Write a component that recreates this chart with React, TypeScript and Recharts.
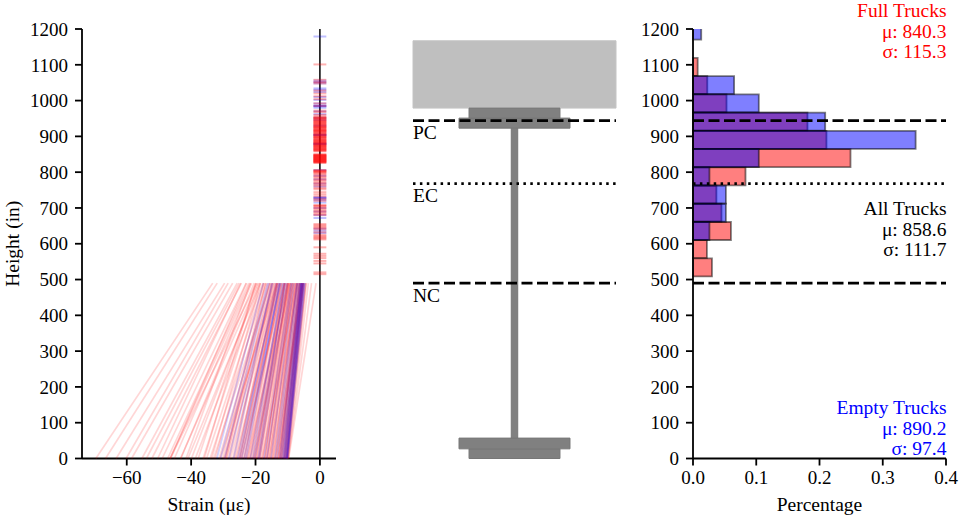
import React from 'react';
import { ScatterChart, Scatter, BarChart, Bar, ComposedChart, XAxis, YAxis, ReferenceLine, ReferenceArea } from 'recharts';

const SERIF = '"Liberation Serif", serif';
const heightTicks = [0, 100, 200, 300, 400, 500, 600, 700, 800, 900, 1000, 1100, 1200];
const strainTicks = [-60, -40, -20, 0];
const pctTicks = [0, 0.1, 0.2, 0.3, 0.4];

// strain profile below the slab: value at the bottom flange and at the neutral axis
const NEUTRAL = 490;
const PC = 944;
const EC = 768;
const fullBottom = [
  -69.6, -66.6, -63.3, -60.2, -58.5, -55.3, -53.9, -52.2, -50.4, -49.0,
  -47.3, -46.6, -46.5, -46.4, -45.2, -43.3, -43.2, -41.0, -39.9, -38.7,
  -36.3, -35.9, -34.1, -33.6, -32.5, -31.3, -30.2, -29.8, -29.5, -29.3, -29.1, -28.8, -28.2,
  -26.6, -25.9, -25.4, -25.1, -24.9, -24.7, -24.2, -23.7, -23.5, -22.8,
  -22.3, -21.9, -21.7, -21.4, -21.0, -20.7, -20.3, -20.0, -19.6, -19.3,
  -19.0, -18.7, -18.4, -18.0,
  -17.6, -17.2, -16.9, -16.5, -16.2, -15.9, -15.5, -15.2, -14.9, -14.5,
  -14.2, -13.9, -13.6, -13.2, -12.9, -12.7, -12.4, -12.1, -11.8, -11.6,
  -11.3, -11.1, -10.9, -10.7, -10.5, -10.3, -10.1, -9.9, -9.7,
  -41.6, -37.8, -35.2, -33.0, -30.9, -27.8, -27.1, -26.2, -24.4, -23.1,
  -22.5, -20.5, -19.8, -18.9, -17.9, -17.0, -16.4, -15.7, -14.7, -13.7,
  -13.0, -12.5, -12.2, -11.9, -11.2, -10.8, -10.4, -10.2, -10.0, -9.8,
];
const fullTop = [
  -33.3, -31.9, -29.6, -28.5, -27.1, -25.7, -25.1, -24.4, -24.6, -22.9,
  -22.1, -21.6, -19.7, -22.8, -21.2, -19.3, -20.4, -18.5, -19.0, -17.7,
  -18.6, -20.0, -16.6, -18.4, -17.4, -15.6, -17.0, -14.4, -16.8, -15.0, -16.2, -14.0, -15.6,
  -14.8, -13.2, -14.6, -12.4, -14.0, -12.8, -13.6, -11.8, -13.2, -12.0,
  -12.6, -11.0, -12.3, -10.8, -11.9, -10.4, -11.4, -10.0, -11.0, -9.8,
  -10.8, -9.4, -10.2, -9.0,
  -10.0, -8.6, -9.6, -8.2, -9.0, -8.0, -8.8, -7.6, -8.4, -7.2,
  -7.8, -6.8, -7.4, -6.4, -7.0, -6.0, -6.6, -5.8, -6.2, -5.6,
  -6.0, -5.4, -5.8, -5.2, -5.5, -4.8, -5.0, -3.6, -1.2,
  -21.6, -19.8, -17.4, -15.4, -13.4, -13.4, -15.0, -13.0, -11.2, -13.4,
  -10.0, -9.4, -11.0, -9.7, -7.4, -9.2, -8.4, -7.0, -7.0, -5.6,
  -5.4, -6.2, -6.4, -5.0, -5.2, -4.4, -5.2, -4.2, -4.4, -2.6,
];
const emptyBottom = [
  -32.0, -30.9, -29.6, -28.3, -26.8, -25.6, -24.9, -24.3, -23.5, -22.9,
  -21.6, -20.8, -20.2, -19.2, -18.8, -17.4, -16.5, -15.2, -14.0, -13.3,
  -12.5, -12.1, -11.7, -11.4, -11.2, -11.0, -10.8, -10.6, -10.4, -10.3,
  -10.2, -10.1, -10.0,
];
const emptyTop = [
  -17.6, -16.2, -15.8, -14.6, -15.0, -13.0, -13.6, -12.2, -12.4, -12.6,
  -11.2, -11.6, -10.5, -10.9, -10.0, -9.0, -8.6, -8.0, -7.2, -7.0,
  -6.6, -6.3, -6.1, -5.9, -5.8, -5.7, -5.6, -5.4, -5.3, -5.2,
  -5.0, -4.8, -4.6,
];

// gauge readings above the neutral axis, drawn as short dashes round zero
const fullMarks = [
  1101, 1058, 1052, 1048, 1028, 1020, 1012, 1004, 992, 985, 972, 968, 960,
  955, 953, 952, 950, 949, 947, 945, 943, 942, 940, 938, 937, 935, 933, 932, 930, 928, 927, 926, 924, 923, 921, 919, 918, 917, 915, 914, 913, 911, 909, 908, 906, 904,
  903, 901, 899, 898, 897, 895, 894, 892, 890, 889, 888, 886, 885, 884, 882, 881, 880, 878, 877, 876, 874, 873, 872, 870, 869, 868, 866, 865, 864, 862, 861, 860, 858,
  850, 849, 848, 847, 846, 845, 844, 843, 842, 841, 840, 839, 838, 837, 836, 835, 834, 833, 832, 831, 830, 829, 828, 827, 826,
  806, 804, 803, 801, 800, 797, 794, 790, 786, 782, 778, 774, 770, 766, 762, 756, 752, 744, 738, 732, 725, 720,
  708, 706, 704, 700, 696, 692, 688, 684, 680, 655, 651, 648, 644, 640, 632, 625, 621, 618, 615, 612,
  590, 572, 566, 560, 552, 545, 520, 515,
];
const emptyMarks = [
  1179, 1056, 1052, 1048, 1034, 1030, 1024, 1010, 1002, 992, 986, 985, 984, 980, 970, 962, 952, 946, 930,
  905, 904, 903, 880, 879, 878, 806, 790, 780, 768, 760, 730, 728, 727, 722, 715, 700, 690, 680, 672, 642, 636, 630,
];

// histogram of neutral axis location
const binMid = [1195.4, 1144.5, 1093.6, 1042.7, 991.8, 940.9, 889.9, 839, 788.1, 737.2, 686.3, 635.3, 584.4, 533.5];
const fullPct = [0, 0, 0.0074, 0.0226, 0.053, 0.181, 0.211, 0.249, 0.083, 0.037, 0.045, 0.06, 0.022, 0.03];
const emptyPct = [0.013, 0, 0, 0.065, 0.104, 0.209, 0.352, 0.104, 0.026, 0.052, 0.052, 0.026, 0, 0];
const histData = binMid.map((mid, i) => ({ mid, full: fullPct[i], empty: emptyPct[i] }));

// section drawing, in inches from the girder centre and from the soffit
const slab = { x1: -283.5, x2: 283.5, y1: 979, y2: 1167 };
const girderParts = [
  { x1: -127, x2: 127, y1: 0, y2: 27 },
  { x1: -155, x2: 155, y1: 27, y2: 57 },
  { x1: -9, x2: 9, y1: 57, y2: 923 },
  { x1: -155, x2: 155, y1: 923, y2: 951 },
  { x1: -127, x2: 127, y1: 951, y2: 979 },
];

const axisLine = { stroke: '#000', strokeWidth: 1.8 };
const tickLine = { stroke: '#000', strokeWidth: 1.8 };
const tickStyle = { fill: '#000', fontSize: 19, fontFamily: SERIF };
const labelStyle = { fill: '#000', fontSize: 19.5, fontFamily: SERIF };
const dashed = '11 4.5';
const dotted = '2.5 4.4';

const noShape = () => null;

function StrainPanel() {
  return (
    <ScatterChart width={345} height={519} margin={{ top: 29, right: 9, left: 0, bottom: 0 }}>
      <XAxis
        type="number"
        dataKey="x"
        domain={[-73.9, 5]}
        ticks={strainTicks}
        height={60.5}
        tickSize={7}
        tickMargin={5}
        axisLine={axisLine}
        tickLine={tickLine}
        tick={tickStyle}
        tickFormatter={(v: number) => String(v).replace('-', '\u2212')}
        label={{ value: 'Strain (\u03bc\u03b5)', position: 'insideBottom', offset: 8, style: labelStyle }}
      />
      <YAxis
        type="number"
        dataKey="y"
        domain={[0, 1200]}
        ticks={heightTicks}
        interval={0}
        width={82}
        tickSize={7}
        tickMargin={7}
        axisLine={axisLine}
        tickLine={tickLine}
        tick={tickStyle}
        label={{ value: 'Height (in)', angle: -90, position: 'insideLeft', offset: 12, style: { ...labelStyle, textAnchor: 'middle' } }}
      />
      {fullBottom.map((b, i) => (
        <Scatter
          key={'fb' + i}
          data={[{ x: b, y: 0 }, { x: fullTop[i], y: NEUTRAL }]}
          line={{ stroke: '#ff0000', strokeOpacity: 0.16, strokeWidth: 1.7 }}
          shape={noShape}
          isAnimationActive={false}
        />
      ))}
      {emptyBottom.map((b, i) => (
        <Scatter
          key={'eb' + i}
          data={[{ x: b, y: 0 }, { x: emptyTop[i], y: NEUTRAL }]}
          line={{ stroke: '#0000ff', strokeOpacity: 0.17, strokeWidth: 1.7 }}
          shape={noShape}
          isAnimationActive={false}
        />
      ))}
      {emptyMarks.map((h, i) => (
        <Scatter
          key={'em' + i}
          data={[{ x: -2, y: h }, { x: 2, y: h }]}
          line={{ stroke: '#0000ff', strokeOpacity: 0.25, strokeWidth: 2 }}
          shape={noShape}
          isAnimationActive={false}
        />
      ))}
      {fullMarks.map((h, i) => (
        <Scatter
          key={'fm' + i}
          data={[{ x: -2, y: h }, { x: 2, y: h }]}
          line={{ stroke: '#ff0000', strokeOpacity: 0.3, strokeWidth: 2 }}
          shape={noShape}
          isAnimationActive={false}
        />
      ))}
      <ReferenceLine x={0} stroke="#000" strokeWidth={1.5} />
    </ScatterChart>
  );
}

function SectionPanel() {
  return (
    <ComposedChart width={230} height={519} margin={{ top: 29, right: 14, left: 12, bottom: 0 }} data={[{ x: 0, y: 0 }]}>
      <XAxis type="number" dataKey="x" domain={[-283.5, 283.5]} height={60.5} tick={false} tickLine={false} axisLine={false} />
      <YAxis type="number" dataKey="y" domain={[0, 1200]} width={1} tick={false} tickLine={false} axisLine={false} />
      <ReferenceArea {...slab} fill="#bfbfbf" fillOpacity={1} stroke="#c4c4c4" strokeWidth={1} />
      {girderParts.map((p, i) => (
        <ReferenceArea
          key={i}
          x1={p.x1}
          x2={p.x2}
          y1={p.y1}
          y2={p.y2}
          fill="#808080"
          fillOpacity={1}
          stroke="#777"
          strokeWidth={1}
        />
      ))}
      <ReferenceLine y={PC} stroke="#000" strokeWidth={2.6} strokeDasharray={dashed} />
      <ReferenceLine y={EC} stroke="#000" strokeWidth={2.8} strokeDasharray={dotted} />
      <ReferenceLine y={NEUTRAL} stroke="#000" strokeWidth={2.6} strokeDasharray={dashed} />
      <text x={13} y={139} style={labelStyle}>PC</text>
      <text x={13} y={202} style={labelStyle}>EC</text>
      <text x={13} y={302} style={labelStyle}>NC</text>
    </ComposedChart>
  );
}

const statText = (x: number, y: number, fill: string, lines: string[]) =>
  lines.map((t, i) => (
    <text key={t} x={x} y={y + i * 20.7} textAnchor="end" style={{ ...labelStyle, fill }}>{t}</text>
  ));

function HistogramPanel() {
  return (
    <BarChart
      width={352}
      height={519}
      layout="vertical"
      data={histData}
      barSize={18}
      margin={{ top: 29, right: 17, left: 0, bottom: 0 }}
    >
      <XAxis
        type="number"
        domain={[0, 0.4]}
        ticks={pctTicks}
        height={60.5}
        tickSize={7}
        tickMargin={5}
        axisLine={axisLine}
        tickLine={tickLine}
        tick={tickStyle}
        tickFormatter={(v: number) => v.toFixed(1)}
        label={{ value: 'Percentage', position: 'insideBottom', offset: 8, style: labelStyle }}
      />
      <YAxis
        type="number"
        dataKey="mid"
        domain={[0, 1200]}
        ticks={heightTicks}
        interval={0}
        reversed
        allowDataOverflow
        width={82}
        tickSize={7}
        tickMargin={7}
        axisLine={axisLine}
        tickLine={tickLine}
        tick={tickStyle}
      />
      <YAxis yAxisId="empty" type="number" dataKey="mid" domain={[0, 1200]} reversed allowDataOverflow hide />
      <Bar dataKey="full" fill="#ff0000" fillOpacity={0.5} stroke="#000" strokeOpacity={0.5} strokeWidth={1.8} isAnimationActive={false} />
      <Bar yAxisId="empty" dataKey="empty" fill="#0000ff" fillOpacity={0.5} stroke="#000" strokeOpacity={0.5} strokeWidth={1.8} isAnimationActive={false} />
      <ReferenceLine y={PC} stroke="#000" strokeWidth={2.6} strokeDasharray={dashed} />
      <ReferenceLine y={EC} stroke="#000" strokeWidth={2.8} strokeDasharray={dotted} />
      <ReferenceLine y={NEUTRAL} stroke="#000" strokeWidth={2.6} strokeDasharray={dashed} />
      {statText(335.5, 17, '#ff0000', ['Full Trucks', '\u03bc: 840.3', '\u03c3: 115.3'])}
      {statText(335.5, 215, '#000', ['All Trucks', '\u03bc: 858.6', '\u03c3: 111.7'])}
      {statText(335.5, 414, '#0000ff', ['Empty Trucks', '\u03bc: 890.2', '\u03c3: 97.4'])}
    </BarChart>
  );
}

export default function App() {
  return (
    <div style={{ position: 'absolute', left: 0, top: 0, width: 963, height: 519, background: '#fff', overflow: 'hidden' }}>
      <div style={{ position: 'absolute', left: 0, top: 0 }}><StrainPanel /></div>
      <div style={{ position: 'absolute', left: 400, top: 0 }}><SectionPanel /></div>
      <div style={{ position: 'absolute', left: 611, top: 0 }}><HistogramPanel /></div>
    </div>
  );
}
